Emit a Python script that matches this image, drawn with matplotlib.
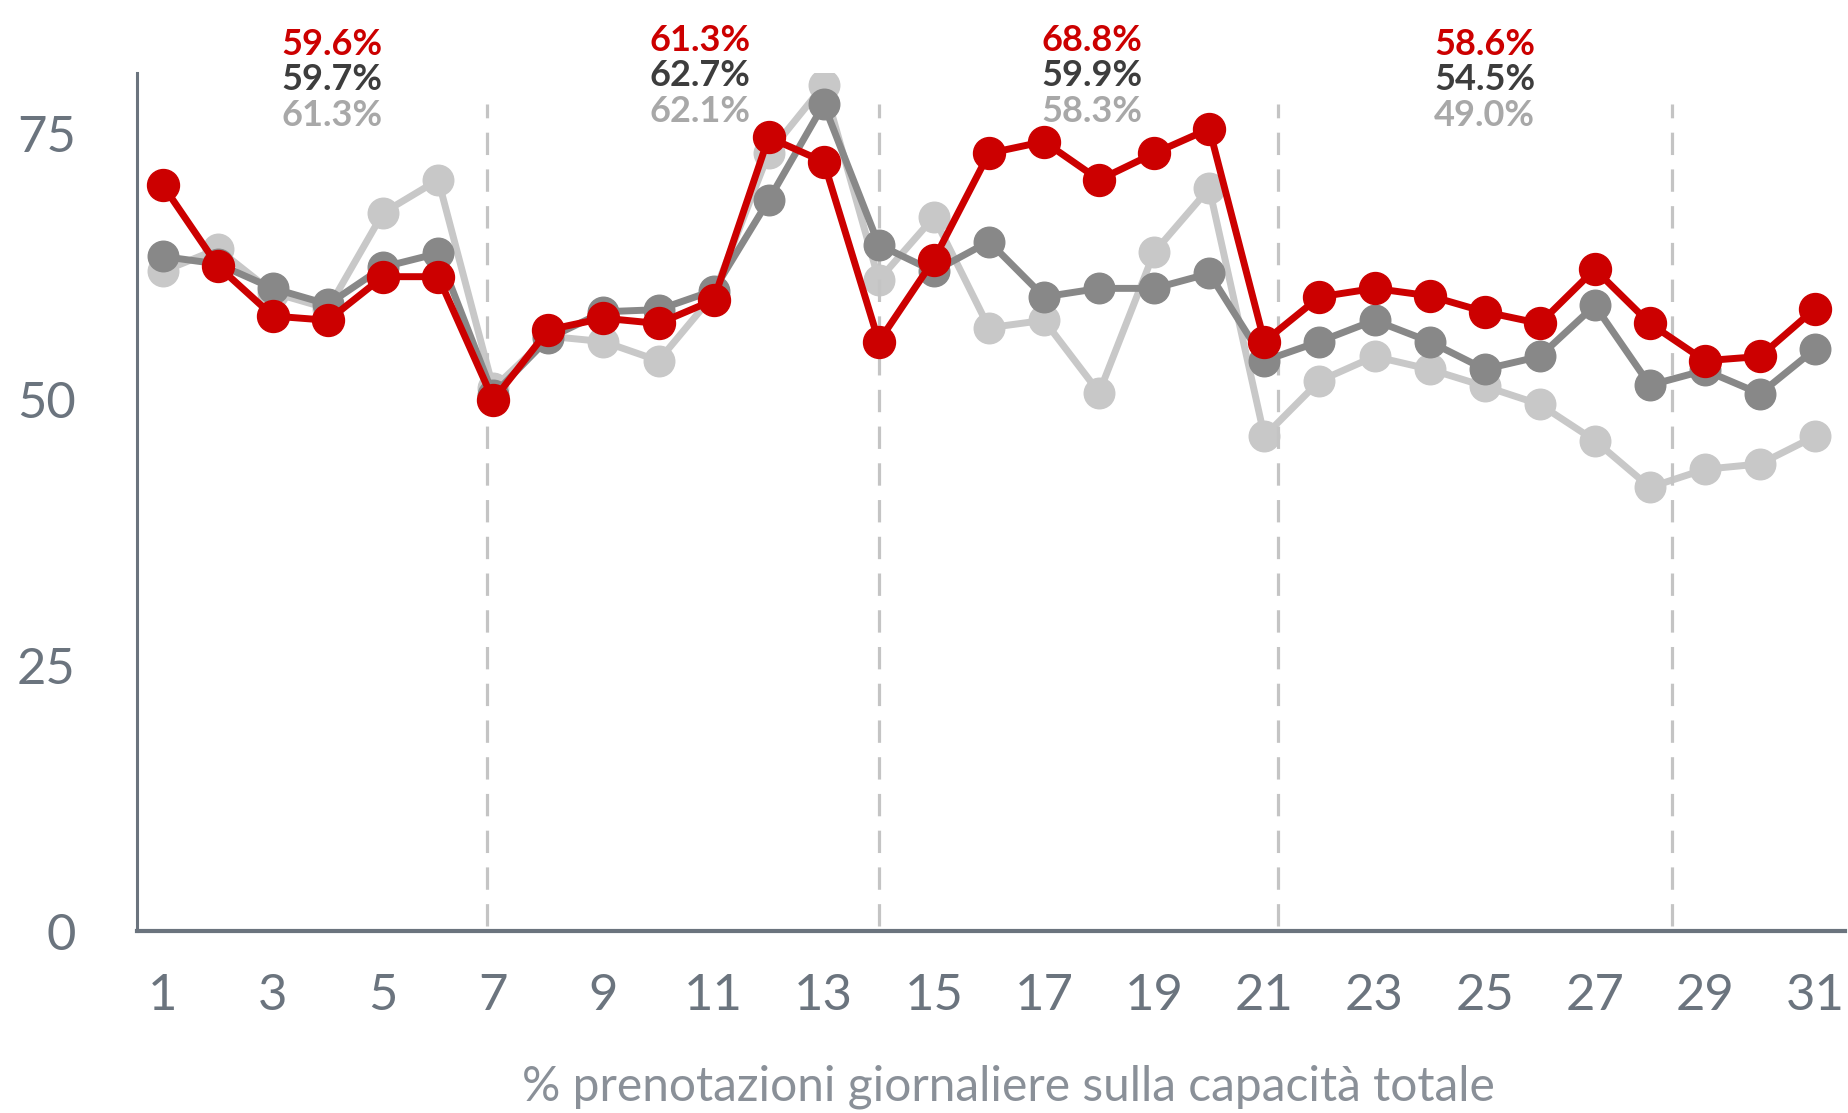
import matplotlib.pyplot as plt

# Days of the month
days = list(range(1, 32))

# Daily bookings as % of total capacity
red_vals = [70.1, 62.5, 57.8, 57.4, 61.5, 61.5, 49.9, 56.5, 57.6, 57.1,
            59.3, 74.6, 72.3, 55.4, 63.1, 73.1, 74.2, 70.6, 73.1, 75.4,
            55.4, 59.6, 60.4, 59.7, 58.2, 57.1, 62.2, 57.1, 53.6, 54.0, 58.5]
dark_vals = [63.4, 62.7, 60.4, 58.9, 62.4, 63.7, 50.4, 55.7, 58.2, 58.4,
             60.2, 68.7, 77.7, 64.5, 62.0, 64.8, 59.6, 60.4, 60.4, 61.8,
             53.6, 55.4, 57.4, 55.4, 52.8, 54.0, 58.8, 51.3, 52.7, 50.5, 54.7]
light_vals = [62.0, 64.1, 60.0, 58.5, 67.5, 70.6, 51.0, 55.9, 55.4, 53.6,
              59.8, 73.1, 79.5, 61.2, 67.1, 56.7, 57.4, 50.6, 63.8, 69.8,
              46.5, 51.7, 54.0, 52.8, 51.2, 49.5, 46.1, 41.7, 43.4, 43.9, 46.5]

# Week separators and weekly averages
week_breaks = [6.89, 14.0, 21.24, 28.4]
label_x = [4.07, 10.76, 17.87, 25.0]
red_avg = ['59.6%', '61.3%', '68.8%', '58.6%']
dark_avg = ['59.7%', '62.7%', '59.9%', '54.5%']
light_avg = ['61.3%', '62.1%', '58.3%', '49.0%']

RED = '#cc0000'
DARK = '#888888'
LIGHT = '#c8c8c8'
AXIS = '#6b747e'

plt.rcParams['font.family'] = ['Lato', 'DejaVu Sans']

fig = plt.figure(figsize=(18.48, 11.13), dpi=100)
ax = fig.add_axes([0.0741, 0.1635, 0.9245, 0.7705])

ax.plot(days, light_vals, color=LIGHT, lw=5, marker='o', markersize=22, zorder=2)

for x in week_breaks:
    ax.plot([x, x], [0.5, 77.7], color='#c4c4c4', lw=2.3,
            dashes=(7, 4.5), zorder=2.5)

ax.plot(days, dark_vals, color=DARK, lw=5, marker='o', markersize=22, zorder=3)
ax.plot(days, red_vals, color=RED, lw=5, marker='o', markersize=23, zorder=4)

# weekly averages above the plot
y_shift = [0.0, 0.35, 0.35, 0.0]
for i in range(4):
    ax.text(label_x[i], 83.35 + y_shift[i], red_avg[i], color=RED, fontsize=26,
            fontweight='bold', ha='center', va='center', clip_on=False)
    ax.text(label_x[i], 80.05 + y_shift[i], dark_avg[i], color='#3d3d3d', fontsize=26,
            fontweight='bold', ha='center', va='center', clip_on=False)
    ax.text(label_x[i], 76.65 + y_shift[i], light_avg[i], color='#a8a8a8', fontsize=26,
            fontweight='bold', ha='center', va='center', clip_on=False)

ax.set_xlim(0.53, 31.55)
ax.set_ylim(0, 80.6)
ax.set_xticks(range(1, 32, 2))
ax.set_yticks([0, 25, 50, 75])

for side in ['top', 'right']:
    ax.spines[side].set_visible(False)
ax.spines['left'].set_color(AXIS)
ax.spines['left'].set_linewidth(2.2)
ax.spines['bottom'].set_color(AXIS)
ax.spines['bottom'].set_linewidth(3)

ax.tick_params(axis='both', length=0, labelsize=36.5, labelcolor=AXIS)
ax.tick_params(axis='x', pad=30)
ax.tick_params(axis='y', pad=44)

fig.text(0.5455, 0.0234, '% prenotazioni giornaliere sulla capacità totale',
         fontsize=34.5, color='#8a9098', ha='center', va='center')

fig.savefig('out.png', dpi=100)
